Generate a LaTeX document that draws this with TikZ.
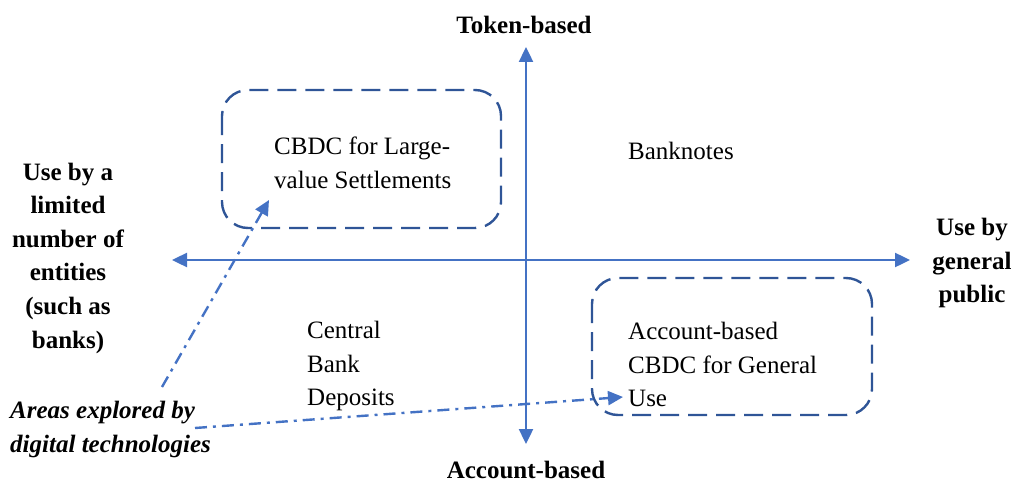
\documentclass[tikz,border=0pt]{standalone}
\usepackage{fontspec}
\setmainfont{Liberation Serif}
\usetikzlibrary{arrows.meta}
\definecolor{axisblue}{HTML}{4472C4}
\definecolor{boxblue}{HTML}{2F5597}
\tikzset{
  axis/.style={draw=axisblue, line width=2.4pt, -{Triangle[length=15pt,width=14pt]}},
  zone/.style={draw=boxblue, line width=2.4pt, rounded corners=26pt, dash pattern=on 19pt off 9pt},
  pointer/.style={draw=axisblue, line width=2.4pt, dash pattern=on 12pt off 6pt on 3pt off 6pt, -{Triangle[length=15pt,width=14pt]}},
  txt/.style={inner sep=0pt, anchor=north west, align=left, font=\fontsize{25}{33.5}\selectfont},
  lbl/.style={inner sep=0pt, align=center, font=\fontsize{25}{33.6}\selectfont\bfseries},
}
\begin{document}
\begin{tikzpicture}[x=1pt,y=-1pt]
\path[use as bounding box] (0,0) rectangle (1016,484);
% axes
\coordinate (ctr) at (526,260);
\coordinate (top) at (526,47);
\coordinate (bot) at (526,444);
\coordinate (lft) at (172,260);
\coordinate (rgt) at (910,260);
\draw[axis] (ctr) -- (top);
\draw[axis] (ctr) -- (bot);
\draw[axis] (ctr) -- (lft);
\draw[axis] (ctr) -- (rgt);
% zones
\draw[zone] (222,90) rectangle (501,228);
\draw[zone] (592,278) rectangle (872,415);
% axis labels
\node[lbl, anchor=base] (tok) at (524,34) {Token-based};
\node[lbl, anchor=base] (acc) at (526,478) {Account-based};
\node[lbl, anchor=north] (lim) at (68,162.5) {Use by a\\limited\\number of\\entities\\(such as\\banks)};
\node[lbl, anchor=north] (gen) at (972,218) {Use by\\general\\public};
% quadrant texts
\node[txt] (lv) at (274,137) {CBDC for Large-\\value Settlements};
\node[txt] (bn) at (628,141.5) {Banknotes};
\node[txt] (cb) at (307,321) {Central\\Bank\\Deposits};
\node[txt] (ab) at (628,322) {Account-based\\CBDC for General\\Use};
\node[txt, font=\fontsize{25}{33.5}\selectfont\bfseries\itshape] (ar) at (10,401) {Areas explored by\\digital technologies};
% pointers
\coordinate (p1s) at (162,387);
\coordinate (p1e) at (269,200);
\coordinate (p2s) at (195,428);
\coordinate (p2e) at (623,397);
\draw[pointer] (p1s) -- (p1e);
\draw[pointer] (p2s) -- (p2e);
\end{tikzpicture}
\end{document}
